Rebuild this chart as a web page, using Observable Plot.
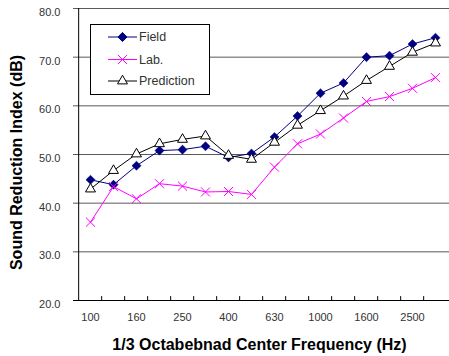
<!DOCTYPE html>
<html>
<head>
<meta charset="utf-8">
<script src="https://cdn.jsdelivr.net/npm/d3@7"></script>
<script src="https://cdn.jsdelivr.net/npm/@observablehq/plot@0.6"></script>
<style>
  html, body { margin: 0; padding: 0; background: white; }
  svg { display: block; }
</style>
</head>
<body>
<div id="chart"></div>
<script>
const freqs = ["100","125","160","200","250","315","400","500","630","800","1000","1250","1600","2000","2500","3150"];
const field = [44.8, 43.8, 47.7, 50.8, 51.0, 51.7, 49.4, 50.2, 53.6, 57.9, 62.6, 64.7, 70.0, 70.3, 72.7, 74.0];
const lab   = [36.1, 43.4, 40.9, 44.0, 43.5, 42.3, 42.4, 41.8, 47.4, 52.2, 54.2, 57.5, 60.9, 61.9, 63.6, 65.8];
const pred  = [42.9, 46.7, 50.1, 52.2, 53.1, 53.8, 49.8, 49.0, 52.5, 56.0, 59.0, 62.0, 65.2, 68.1, 71.0, 72.9];
const seriesNames = ["Field", "Lab.", "Prediction"];
const yTicks = [20, 30, 40, 50, 60, 70, 80];
const xTickLabels = ["100","160","250","400","630","1000","1600","2500"];

const rows = (vals) => freqs.map((f, i) => ({f, v: vals[i]}));
const x0 = 73, x1 = 451.6;
const step = (x1 - x0) / freqs.length;
const font = "'Liberation Sans', Arial, sans-serif";

const chart = Plot.plot({
  width: 449,
  height: 356,
  marginLeft: 73,
  marginRight: 0,
  marginTop: 8,
  marginBottom: 56,
  style: {fontFamily: font, background: "white", overflow: "visible"},
  x: {type: "point", domain: freqs, padding: 0.5, range: [x0, x1]},
  y: {domain: [20, 80]},
  marks: [
    Plot.gridY(yTicks.slice(1), {stroke: "#5a5a5a", strokeOpacity: 1, strokeWidth: 1}),
    Plot.ruleY([20], {stroke: "black", strokeWidth: 1}),
    Plot.ruleX([freqs[0]], {dx: -step / 2, y1: 20, y2: 80, stroke: "black", strokeWidth: 1}),
    Plot.ruleX(freqs.slice(1), {x: d => d, y1: 20, y2: 20.8, dx: -step / 2, stroke: "black"}),
    Plot.axisY(yTicks, {tickSize: 0, tickPadding: 13, tickFormat: d3.format(".1f"), fontSize: 11, dy: 4, fill: "#333", label: null}),
    Plot.axisX(xTickLabels, {tickSize: 0, tickPadding: 12.5, fontSize: 11, fill: "#333", label: null}),
    Plot.line(rows(field), {x: "f", y: "v", stroke: "#000080", strokeWidth: 1}),
    Plot.dot(rows(field), {x: "f", y: "v", symbol: "diamond2", r: 4.1, fill: "#000080", stroke: "#000080", strokeWidth: 0.5}),
    Plot.line(rows(lab), {x: "f", y: "v", stroke: "#ff00ff", strokeWidth: 1}),
    Plot.dot(rows(lab), {x: "f", y: "v", symbol: "times", r: 4.2, stroke: "#ff00ff", strokeWidth: 1}),
    Plot.line(rows(pred), {x: "f", y: "v", stroke: "black", strokeWidth: 1}),
    Plot.dot(rows(pred), {x: "f", y: "v", symbol: "triangle", r: 3.7, fill: "white", stroke: "black", strokeWidth: 1}),
    Plot.text(["Sound Reduction Index (dB)"], {frameAnchor: "left", dx: -57, dy: 8, rotate: -90, fontSize: 16, fontWeight: "bold", fill: "black", textAnchor: "middle", lineAnchor: "middle", letterSpacing: "0.3px"}),
    Plot.text(["1/3 Octabebnad Center Frequency (Hz)"], {frameAnchor: "bottom", dx: -2, dy: 44, fontSize: 16, fontWeight: "bold", fill: "black", textAnchor: "middle", lineAnchor: "middle", letterSpacing: "0.7px"})
  ]
});

document.getElementById("chart").appendChild(chart);

// Legend (inside plot area, as in the reference)
const svg = d3.select(chart);
const lg = svg.append("g").attr("font-family", font).attr("text-anchor", "start");
lg.append("rect").attr("x", 90.5).attr("y", 24.5).attr("width", 119).attr("height", 70)
  .attr("fill", "white").attr("stroke", "black").attr("stroke-width", 1);
const legendStyles = [
  {stroke: "#000080", fill: "#000080", sym: d3.symbolDiamond2, size: Math.PI * 4.1 * 4.1},
  {stroke: "#ff00ff", fill: "none", sym: d3.symbolTimes, size: Math.PI * 4.2 * 4.2},
  {stroke: "black", fill: "white", sym: d3.symbolTriangle, size: Math.PI * 3.7 * 3.7}
];
const rowsY = [37, 59.5, 81];
seriesNames.forEach((name, i) => {
  const st = legendStyles[i];
  const yy = rowsY[i];
  lg.append("line").attr("x1", 108).attr("x2", 137).attr("y1", yy).attr("y2", yy)
    .style("stroke", st.stroke).attr("stroke-width", 1);
  lg.append("path").attr("d", d3.symbol(st.sym, st.size)())
    .attr("transform", `translate(122.5,${yy})`)
    .style("fill", st.fill).style("stroke", st.stroke).attr("stroke-width", 1);
  lg.append("text").attr("x", 139).attr("y", yy).attr("dy", "0.35em")
    .attr("font-size", 12.5).attr("fill", "#333").attr("text-anchor", "start").text(name);
});
</script>
</body>
</html>
